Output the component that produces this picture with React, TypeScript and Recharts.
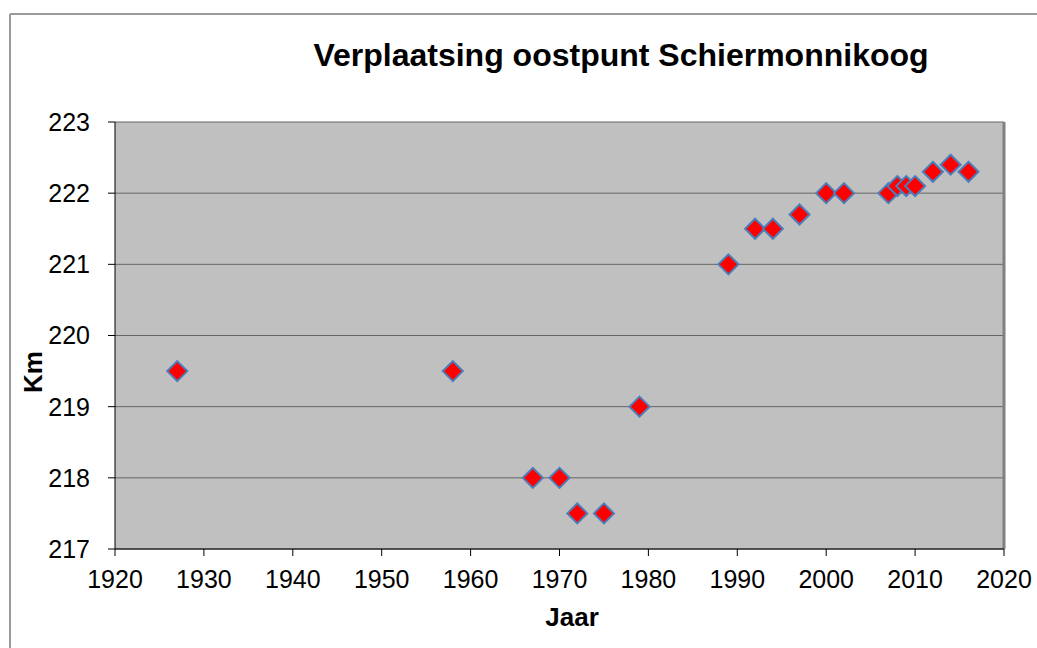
import React from 'react'
import {
  ScatterChart,
  Scatter,
  XAxis,
  YAxis,
  CartesianGrid,
  ReferenceLine,
} from 'recharts'

const years = [1927, 1958, 1967, 1970, 1972, 1975, 1979, 1989, 1992, 1994, 1997, 2000, 2002, 2007, 2008, 2009, 2010, 2012, 2014, 2016]
const km = [219.5, 219.5, 218, 218, 217.5, 217.5, 219, 221, 221.5, 221.5, 221.7, 222, 222, 222, 222.1, 222.1, 222.1, 222.3, 222.4, 222.3]
const xTicks = [1920, 1930, 1940, 1950, 1960, 1970, 1980, 1990, 2000, 2010, 2020]
const yTicks = [217, 218, 219, 220, 221, 222, 223]

const title = 'Verplaatsing oostpunt Schiermonnikoog'
const xTitle = 'Jaar'
const yTitle = 'Km'

const font = '"Liberation Sans", Arial, sans-serif'

// Excel-style red diamond with a blue edge
function Diamond(props: any) {
  const { cx, cy } = props
  const r = 10
  return (
    <polygon
      points={`${cx},${cy - r} ${cx + r},${cy} ${cx},${cy + r} ${cx - r},${cy}`}
      fill="#FF0000"
      stroke="#4A7EBB"
      strokeWidth={2}
    />
  )
}

export default function App() {
  const data = years.map((year, i) => ({ year, km: km[i] }))
  const tick = { fill: '#000', fontSize: 25, fontFamily: font }

  return (
    <div
      style={{
        position: 'absolute',
        left: 0,
        top: 0,
        width: 1037,
        height: 648,
        overflow: 'hidden',
        background: '#fff',
        fontFamily: font,
      }}
    >
      {/* chart-area frame: only top and left edges fall inside the picture */}
      <svg
        width={1037}
        height={648}
        style={{ position: 'absolute', left: 0, top: 0 }}
      >
        <line x1={10} y1={14} x2={1037} y2={14} stroke="#9a9a9a" strokeWidth={2} />
        <line x1={10} y1={14} x2={10} y2={648} stroke="#9a9a9a" strokeWidth={2} />
      </svg>
      <ScatterChart
        width={1037}
        height={648}
        margin={{ top: 122, right: 33, bottom: 59, left: 35 }}
      >
        <CartesianGrid vertical={false} fill="#C0C0C0" stroke="#666666" />
        <XAxis
          type="number"
          dataKey="year"
          domain={[1920, 2020]}
          ticks={xTicks}
          height={40}
          tickSize={7}
          tickMargin={14}
          tick={tick}
          stroke="#000"
          tickLine={{ stroke: '#000' }}
          axisLine={{ stroke: '#000' }}
        />
        <YAxis
          type="number"
          dataKey="km"
          domain={[217, 223]}
          ticks={yTicks}
          width={80}
          tickSize={7}
          tickMargin={18}
          tick={tick}
          stroke="#000"
          tickLine={{ stroke: '#000' }}
          axisLine={{ stroke: '#000' }}
        />
        <ReferenceLine x={2020} stroke="#808080" strokeWidth={3} />
        <Scatter data={data} shape={Diamond} isAnimationActive={false} />
      </ScatterChart>
      <div
        style={{
          position: 'absolute',
          left: 0,
          width: 1242,
          top: 37,
          textAlign: 'center',
          fontSize: 32,
          fontWeight: 'bold',
          lineHeight: '36px',
          whiteSpace: 'nowrap',
        }}
      >
        {title}
      </div>
      <div
        style={{
          position: 'absolute',
          left: 472,
          width: 200,
          top: 602,
          textAlign: 'center',
          fontSize: 26,
          fontWeight: 'bold',
          lineHeight: '30px',
        }}
      >
        {xTitle}
      </div>
      <div
        style={{
          position: 'absolute',
          left: 33 - 100,
          top: 372 - 15,
          width: 200,
          height: 30,
          textAlign: 'center',
          fontSize: 26,
          fontWeight: 'bold',
          lineHeight: '30px',
          transform: 'rotate(-90deg)',
        }}
      >
        {yTitle}
      </div>
    </div>
  )
}
